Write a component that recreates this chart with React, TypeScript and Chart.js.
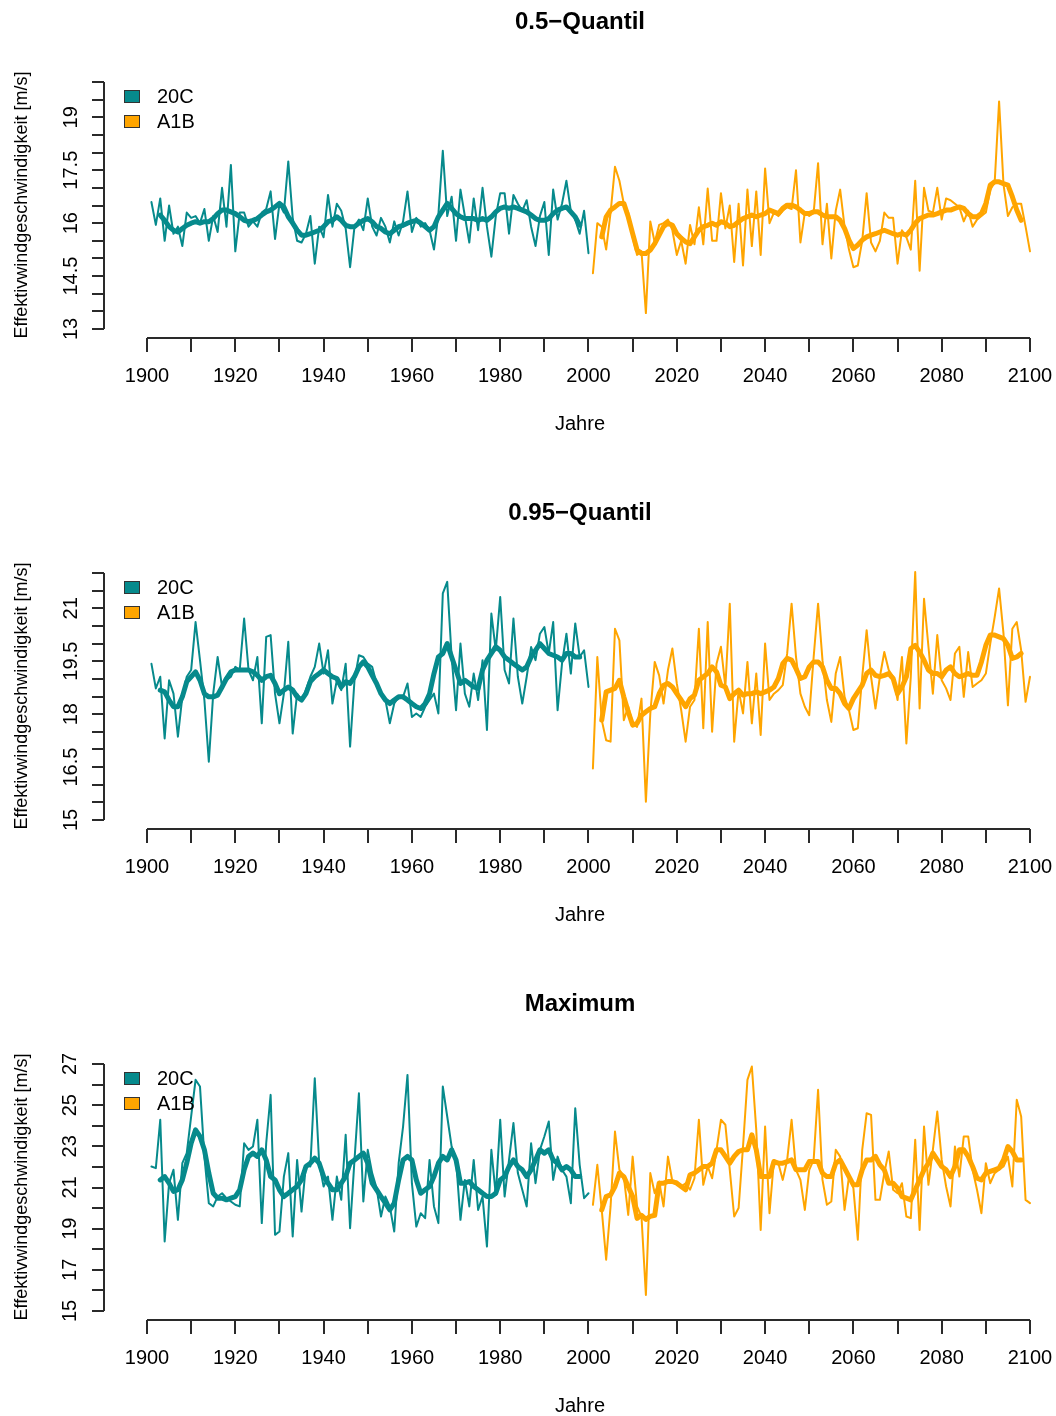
import React, { useEffect, useRef } from 'react';
import { Chart, registerables } from 'chart.js';

Chart.register(...registerables);

const TEAL = '#068a8c';
const ORANGE = '#FFA500';
const AXIS = '#2a2a2a';
const FONT = "'Liberation Sans', Arial, Helvetica, sans-serif";

const PANEL_H = 491;
const X_MIN = 1890.26;
const X_MAX = 2105.89;

const HIST_START = 1901;
const SCEN_START = 2001;
const HIST_SMOOTH_START = 1903;
const SCEN_SMOOTH_START = 2003;

const xTicks = [1900, 1910, 1920, 1930, 1940, 1950, 1960, 1970, 1980, 1990, 2000, 2010, 2020, 2030, 2040, 2050, 2060, 2070, 2080, 2090, 2100];
const xLabels = [1900, 1920, 1940, 1960, 1980, 2000, 2020, 2040, 2060, 2080, 2100];

const legendItems = [
  { label: '20C', color: TEAL },
  { label: 'A1B', color: ORANGE },
];

// ---------- 0.5-Quantil ----------
const q50Ticks = [13, 13.5, 14, 14.5, 15, 15.5, 16, 16.5, 17, 17.5, 18, 18.5, 19, 19.5, 20];
const q50Labels = [13, 14.5, 16, 17.5, 19];
const q50Hist = [
  16.6, 15.95, 16.7, 15.5, 16.5, 15.7, 15.9, 15.35, 16.3, 16.15,
  16.2, 16.0, 16.4, 15.5, 16.2, 15.75, 17.0, 15.9, 17.65, 15.2,
  16.3, 16.3, 15.9, 16.05, 15.9, 16.3, 16.4, 16.9, 15.55, 16.55,
  16.3, 17.75, 16.15, 15.5, 15.45, 15.7, 16.2, 14.85, 15.9, 15.6,
  16.8, 15.9, 16.55, 16.35, 15.85, 14.75, 15.9, 16.1, 15.8, 16.7,
  15.9, 15.65, 16.15, 15.9, 15.45, 16.05, 15.65, 16.05, 16.9, 15.75,
  16.15, 15.9, 16.0, 15.8, 15.25, 16.25, 18.05, 16.2, 16.75, 15.5,
  16.95, 16.2, 15.45, 16.7, 15.8, 17.0, 15.9, 15.05, 16.2, 16.85,
  16.85, 15.7, 16.8, 16.55, 16.35, 16.65, 15.9, 15.35, 16.2, 16.6,
  15.1, 16.95, 16.1, 16.55, 17.2, 16.35, 16.1, 15.7, 16.35, 15.15,
];
const q50Scen = [
  14.58, 16.0, 15.9, 15.25, 16.3, 17.6, 17.2, 16.55, 16.3, 15.6,
  15.1, 15.2, 13.45, 16.05, 15.45, 15.95, 16.0, 16.1, 15.8, 15.1,
  15.5, 14.85, 15.95, 15.4, 16.45, 15.4, 16.98, 15.5, 15.5, 16.85,
  15.85, 16.5, 14.9, 16.55, 14.8, 16.95, 15.35, 16.9, 15.1, 17.55,
  16.0, 16.3, 16.2, 16.35, 16.45, 16.4, 17.5, 15.45, 16.3, 16.2,
  16.3, 17.7, 15.4, 16.55, 15.0, 16.35, 16.95, 15.9, 15.25, 14.75,
  14.8, 15.5, 16.85, 15.45, 15.2, 15.5, 16.3, 16.15, 16.15, 14.85,
  15.8, 15.6, 15.25, 17.2, 14.65, 17.0, 16.35, 16.3, 17.0, 16.1,
  16.7, 16.65, 16.55, 16.45, 16.05, 16.35, 15.9, 16.1, 16.2, 16.3,
  16.95, 17.15, 19.45, 17.1, 16.2, 16.45, 16.55, 16.55, 15.9, 15.2,
];
const q50HistSmooth = [
  16.23, 16.08, 15.9, 15.8, 15.75, 15.85, 15.94, 16.0, 16.04, 16.0,
  16.04, 16.04, 16.13, 16.27, 16.37, 16.37, 16.32, 16.27, 16.18, 16.08,
  16.04, 16.08, 16.13, 16.23, 16.32, 16.37, 16.46, 16.56, 16.46, 16.18,
  16.0, 15.8, 15.66, 15.66, 15.7, 15.75, 15.8, 15.9, 16.04, 16.08,
  16.18, 16.08, 15.94, 15.9, 15.9, 16.0, 16.08, 16.13, 16.04, 15.9,
  15.85, 15.75, 15.7, 15.8, 15.9, 15.94, 16.0, 16.04, 16.08, 16.0,
  15.9, 15.8, 15.9, 16.18, 16.37, 16.56, 16.42, 16.27, 16.18, 16.13,
  16.13, 16.13, 16.08, 16.13, 16.08, 16.18, 16.32, 16.42, 16.46, 16.42,
  16.46, 16.42, 16.37, 16.32, 16.23, 16.13, 16.08, 16.08, 16.13, 16.27,
  16.37, 16.42, 16.46, 16.32, 16.18, 15.94,
];
const q50ScenSmooth = [
  15.61, 16.18, 16.37, 16.46, 16.56, 16.56, 16.18, 15.7, 15.24, 15.14,
  15.14, 15.24, 15.42, 15.66, 15.9, 16.0, 15.94, 15.7, 15.57, 15.47,
  15.42, 15.61, 15.8, 15.9, 15.94, 16.0, 15.94, 16.04, 16.0, 15.9,
  15.94, 16.04, 16.13, 16.18, 16.23, 16.18, 16.23, 16.27, 16.37, 16.32,
  16.27, 16.42, 16.51, 16.51, 16.46, 16.37, 16.27, 16.27, 16.32, 16.32,
  16.23, 16.18, 16.18, 16.18, 16.08, 15.85, 15.52, 15.28, 15.38, 15.52,
  15.61, 15.66, 15.7, 15.75, 15.8, 15.75, 15.7, 15.66, 15.7, 15.66,
  15.8, 16.0, 16.13, 16.18, 16.23, 16.23, 16.27, 16.32, 16.37, 16.37,
  16.42, 16.46, 16.42, 16.27, 16.18, 16.18, 16.27, 16.56, 17.08, 17.17,
  17.17, 17.12, 17.08, 16.75, 16.37, 16.08,
];

// ---------- 0.95-Quantil ----------
const q95Ticks = [15, 15.5, 16, 16.5, 17, 17.5, 18, 18.5, 19, 19.5, 20, 20.5, 21, 21.5, 22];
const q95Labels = [15, 16.5, 18, 19.5, 21];
const q95Hist = [
  19.43, 18.73, 19.06, 17.31, 18.96, 18.58, 17.36, 18.49, 19.06, 19.25,
  20.61, 19.53, 18.4, 16.65, 18.58, 19.62, 18.77, 18.96, 19.06, 19.34,
  19.25, 20.71, 19.25, 18.96, 19.62, 17.74, 20.19, 20.24, 18.58, 17.74,
  18.58, 20.05, 17.45, 18.58, 18.4, 18.68, 19.06, 19.34, 20.0, 19.15,
  19.81, 18.3, 18.96, 18.68, 19.43, 17.08, 18.96, 19.67, 19.62, 19.43,
  19.34, 18.87, 18.58, 18.4, 17.74, 18.3, 18.49, 18.49, 18.87, 17.92,
  18.02, 17.92, 18.21, 18.4, 18.58, 18.02, 21.42, 21.75, 19.62, 18.11,
  20.0, 18.58, 18.21, 19.15, 18.4, 19.53, 17.55, 20.85, 19.81, 21.32,
  19.25, 18.87, 20.71, 19.06, 18.3, 19.06, 19.9, 19.53, 20.28, 20.47,
  19.72, 20.61, 18.11, 19.43, 20.28, 19.15, 20.57, 19.62, 19.81, 18.77,
];
const q95Scen = [
  16.46, 19.62, 17.83, 17.26, 17.22, 20.42, 20.09, 17.83, 18.21, 17.74,
  17.64, 18.44, 15.52, 18.02, 19.48, 19.1, 18.3, 19.25, 19.86, 18.87,
  18.11, 17.22, 18.21, 18.4, 20.42, 17.6, 20.61, 17.5, 19.43, 19.91,
  18.77, 21.13, 17.22, 18.68, 18.02, 19.48, 17.74, 19.15, 17.41, 20.0,
  18.4, 18.58, 18.68, 18.82, 19.72, 21.13, 19.62, 18.58, 18.21, 17.97,
  19.62, 21.13, 19.53, 18.4, 17.78, 19.15, 19.62, 18.49, 18.11, 17.55,
  17.6, 19.06, 20.38, 19.06, 18.16, 19.06, 19.76, 19.25, 19.06, 18.4,
  19.62, 17.17, 19.06, 22.03, 18.16, 21.27, 19.91, 18.58, 20.24, 18.96,
  18.73, 18.4, 19.72, 19.91, 18.49, 19.76, 18.77, 18.87, 18.96, 19.15,
  20.0, 20.75, 21.56, 20.28, 18.25, 20.42, 20.61, 19.81, 18.35, 19.06,
];
const q95HistSmooth = [
  18.68, 18.63, 18.4, 18.21, 18.21, 18.49, 18.92, 19.06, 19.2, 18.96,
  18.58, 18.49, 18.49, 18.54, 18.77, 19.01, 19.2, 19.25, 19.25, 19.25,
  19.25, 19.2, 19.1, 18.96, 19.06, 19.1, 18.87, 18.58, 18.68, 18.77,
  18.68, 18.49, 18.4, 18.58, 18.92, 19.06, 19.15, 19.25, 19.15, 19.06,
  19.01, 18.77, 18.92, 18.87, 19.06, 19.34, 19.48, 19.34, 19.1, 18.87,
  18.58, 18.4, 18.3, 18.4, 18.49, 18.49, 18.4, 18.3, 18.21, 18.16,
  18.3, 18.58, 19.15, 19.62, 19.72, 20.0, 19.62, 19.25, 18.87, 18.96,
  18.87, 18.77, 18.73, 19.25, 19.53, 19.72, 19.91, 19.81, 19.62, 19.53,
  19.43, 19.34, 19.25, 19.34, 19.62, 19.81, 20.0, 19.86, 19.72, 19.67,
  19.62, 19.53, 19.72, 19.72, 19.62, 19.62,
];
const q95ScenSmooth = [
  17.83, 18.63, 18.68, 18.73, 18.96, 18.49, 18.07, 17.69, 17.74, 17.97,
  18.07, 18.16, 18.21, 18.58, 18.82, 18.87, 18.77, 18.58, 18.4, 18.21,
  18.44, 18.54, 18.96, 19.06, 19.15, 19.34, 19.2, 18.82, 18.77, 18.44,
  18.58, 18.68, 18.54, 18.58, 18.58, 18.63, 18.58, 18.63, 18.68, 18.77,
  19.01, 19.43, 19.58, 19.53, 19.29, 19.01, 19.06, 19.34, 19.48, 19.48,
  19.34, 18.96, 18.73, 18.73, 18.58, 18.3, 18.16, 18.44, 18.63, 18.82,
  19.15, 19.25, 19.1, 19.06, 19.1, 19.15, 19.01, 18.58, 18.77, 19.06,
  19.86, 19.95, 19.76, 19.53, 19.25, 19.15, 19.15, 19.06, 19.25, 19.34,
  19.15, 19.06, 19.1, 19.15, 19.1, 19.1, 19.48, 19.95, 20.24, 20.24,
  20.19, 20.14, 19.95, 19.58, 19.62, 19.72,
];

// ---------- Maximum ----------
const maxTicks = [15, 16, 17, 18, 19, 20, 21, 22, 23, 24, 25, 26, 27];
const maxLabels = [15, 17, 19, 21, 23, 25, 27];
const maxHist = [
  22.02, 21.94, 24.29, 18.38, 21.21, 21.86, 19.43, 22.18, 22.67, 24.45,
  26.23, 25.91, 22.5, 20.24, 20.08, 20.56, 20.72, 20.48, 20.32, 20.16,
  20.08, 23.15, 22.83, 22.99, 24.29, 19.27, 23.15, 25.5, 18.7, 18.86,
  21.53, 22.67, 18.62, 22.34, 19.83, 22.1, 22.02, 26.31, 22.18, 21.05,
  21.53, 19.43, 21.53, 20.4, 23.56, 19.02, 22.34, 25.58, 20.32, 22.83,
  21.7, 20.97, 19.59, 20.56, 20.08, 18.86, 22.18, 23.96, 26.47, 21.21,
  19.1, 19.75, 19.51, 22.34, 20.08, 19.27, 25.91, 24.45, 22.99, 22.34,
  19.43, 21.37, 20.08, 22.34, 19.91, 20.56, 18.13, 22.83, 20.64, 24.29,
  20.56, 22.34, 24.13, 21.7, 20.89, 20.08, 23.15, 21.21, 22.83, 23.48,
  24.21, 21.37, 22.5, 21.86, 21.53, 20.24, 24.85, 22.1, 20.48, 20.72,
];
const maxScen = [
  20.16, 22.1, 19.91, 17.49, 20.08, 23.72, 21.86, 21.53, 19.67, 22.5,
  20.08, 19.59, 15.78, 21.7, 20.72, 21.29, 20.08, 22.5, 21.29, 21.29,
  21.05, 21.21, 20.89, 21.45, 24.29, 21.13, 22.02, 21.45, 22.83, 24.29,
  24.05, 21.86, 19.59, 20.0, 22.99, 26.23, 26.88, 23.8, 18.94, 23.96,
  19.75, 22.34, 22.18, 21.37, 22.34, 24.29, 21.86, 21.37, 19.91, 21.86,
  22.34, 25.75, 21.37, 20.16, 20.32, 22.83, 22.5, 19.91, 21.53, 20.97,
  18.46, 22.83, 24.61, 24.53, 20.4, 20.4, 21.7, 22.75, 20.89, 20.72,
  21.21, 19.59, 19.51, 23.32, 18.94, 23.96, 21.13, 22.83, 24.69, 22.34,
  21.05, 20.08, 22.99, 21.53, 23.48, 23.48, 21.86, 20.89, 19.75, 22.18,
  21.21, 21.7, 21.86, 22.02, 22.5, 21.05, 25.26, 24.45, 20.4, 20.24,
];
const maxHistSmooth = [
  21.37, 21.53, 21.21, 20.81, 20.89, 21.37, 22.18, 23.15, 23.8, 23.48,
  22.83, 21.7, 20.72, 20.48, 20.48, 20.4, 20.48, 20.56, 20.89, 21.86,
  22.51, 22.67, 22.51, 22.83, 22.34, 21.53, 21.37, 20.89, 20.56, 20.72,
  20.89, 21.05, 21.37, 22.02, 22.18, 22.43, 22.18, 21.53, 21.21, 20.89,
  20.89, 21.21, 21.53, 22.18, 22.34, 22.51, 22.67, 22.18, 21.21, 20.89,
  20.56, 20.24, 19.91, 20.24, 21.37, 22.34, 22.51, 22.34, 21.37, 20.72,
  20.89, 21.05, 21.53, 22.18, 22.51, 22.34, 22.83, 22.34, 21.21, 21.21,
  21.29, 21.05, 20.89, 20.72, 20.56, 20.56, 20.72, 21.37, 21.53, 22.02,
  22.34, 22.02, 21.86, 21.53, 21.86, 22.34, 22.83, 22.67, 22.83, 22.34,
  22.18, 21.86, 22.02, 21.86, 21.53, 21.53,
];
const maxScenSmooth = [
  19.91, 20.56, 20.64, 21.05, 21.7, 21.53, 21.05, 20.56, 19.5, 19.65,
  19.45, 19.6, 19.65, 21.21, 21.21, 21.29, 21.29, 21.21, 21.05, 20.89,
  21.62, 21.7, 21.86, 22.02, 22.02, 22.18, 22.83, 22.83, 22.51, 22.18,
  22.51, 22.75, 22.83, 22.83, 23.56, 22.83, 21.53, 21.53, 21.53, 22.26,
  22.18, 22.18, 22.26, 22.34, 21.86, 21.86, 21.86, 22.26, 22.26, 22.26,
  21.7, 21.53, 21.53, 22.18, 22.34, 21.94, 21.53, 21.13, 21.13, 21.86,
  22.34, 22.34, 22.51, 22.1, 21.86, 21.21, 21.21, 20.97, 20.56, 20.48,
  20.4, 20.89, 21.37, 21.86, 22.18, 22.67, 22.34, 22.02, 21.86, 21.53,
  22.02, 22.83, 22.83, 22.51, 22.02, 21.45, 21.37, 21.7, 21.78, 21.86,
  21.94, 22.34, 22.99, 22.75, 22.34, 22.34,
];

type PanelProps = {
  top: number;
  title: string;
  yTicks: number[];
  yLabels: number[];
  hist: number[];
  scen: number[];
  histSmooth: number[];
  scenSmooth: number[];
};

const toPoints = (arr: number[], start: number) => arr.map((v, i) => ({ x: start + i, y: v }));

function Panel({ top, title, yTicks, yLabels, hist, scen, histSmooth, scenSmooth }: PanelProps) {
  const ref = useRef<HTMLCanvasElement | null>(null);

  useEffect(() => {
    if (!ref.current) return;
    // R-style plot region: tick range sits 9px above the bottom edge and 10px below the top edge
    const tickSpan = yTicks[yTicks.length - 1] - yTicks[0];
    const pxPerUnit = 247 / tickSpan;
    const yMin = yTicks[0] - 9 / pxPerUnit;
    const yMax = yTicks[yTicks.length - 1] + 10 / pxPerUnit;
    const widestLabel = Math.max(...yLabels.map((v) => String(v).length));
    const labelHalf = widestLabel >= 4 ? 19.5 : 11;

    const chart = new Chart(ref.current, {
      type: 'line',
      data: {
        datasets: [
          { data: toPoints(histSmooth, HIST_SMOOTH_START), borderColor: TEAL, borderWidth: 5, order: 0 },
          { data: toPoints(scenSmooth, SCEN_SMOOTH_START), borderColor: ORANGE, borderWidth: 5, order: 0 },
          { data: toPoints(hist, HIST_START), borderColor: TEAL, borderWidth: 2, order: 1 },
          { data: toPoints(scen, SCEN_START), borderColor: ORANGE, borderWidth: 2, order: 1 },
          {
            data: [{ x: xTicks[0], y: yMin }, { x: xTicks[xTicks.length - 1], y: yMin }],
            borderColor: AXIS, borderWidth: 2, clip: false, order: 2, borderCapStyle: 'butt',
          },
          {
            data: [{ x: X_MIN, y: yTicks[0] }, { x: X_MIN, y: yTicks[yTicks.length - 1] }],
            borderColor: AXIS, borderWidth: 2, clip: false, order: 2, borderCapStyle: 'butt',
          },
        ],
      } as any,
      options: {
        animation: false,
        responsive: false,
        events: [],
        elements: {
          point: { radius: 0 },
          line: { tension: 0, fill: false, borderJoinStyle: 'round', borderCapStyle: 'round' },
        },
        layout: { padding: 0 },
        plugins: {
          legend: { display: false },
          tooltip: { enabled: false },
          title: {
            display: true,
            text: title,
            fullSize: false,
            color: '#000',
            font: { family: FONT, size: 24, weight: 'bold' },
            padding: { top: 7.6, bottom: 35.6 },
          },
        },
        scales: {
          x: {
            type: 'linear',
            min: X_MIN,
            max: X_MAX,
            afterBuildTicks: (s: any) => { s.ticks = xTicks.map((v) => ({ value: v })); },
            afterFit: (s: any) => {
              s.height = PANEL_H - 338;
              s.paddingLeft = 0; s.paddingRight = 0; s.paddingTop = 0; s.paddingBottom = 0;
            },
            border: { display: false },
            grid: { drawOnChartArea: false, drawTicks: true, tickLength: 14, color: AXIS, lineWidth: 2 },
            ticks: {
              autoSkip: false, maxRotation: 0, minRotation: 0, padding: 12, color: '#000',
              font: { family: FONT, size: 20 },
              callback: (v: any) => (xLabels.includes(Number(v)) ? String(v) : ''),
            },
            title: {
              display: true, text: 'Jahre', color: '#000',
              font: { family: FONT, size: 20 }, padding: { top: 0, bottom: 55 },
            },
          },
          y: {
            type: 'linear',
            min: yMin,
            max: yMax,
            afterBuildTicks: (s: any) => { s.ticks = yTicks.map((v) => ({ value: v })); },
            afterFit: (s: any) => {
              s.width = 104;
              s.paddingLeft = 0; s.paddingRight = 0; s.paddingTop = 0; s.paddingBottom = 0;
            },
            border: { display: false },
            grid: { drawOnChartArea: false, drawTicks: true, tickLength: 12, color: AXIS, lineWidth: 2 },
            ticks: {
              autoSkip: false, minRotation: 90, maxRotation: 90, crossAlign: 'center',
              padding: 104 - 12 - 71 - labelHalf, color: '#000',
              font: { family: FONT, size: 20 },
              callback: (v: any) => (yLabels.includes(Number(v)) ? String(v) : ''),
            },
            title: {
              display: true, text: 'Effektivwindgeschwindigkeit [m/s]', color: '#000',
              font: { family: FONT, size: 18 }, padding: { top: 11, bottom: 0 },
            },
          },
        },
      } as any,
    });
    return () => chart.destroy();
  }, []);

  return (
    <div style={{ position: 'absolute', left: 0, top, width: 1056, height: PANEL_H }}>
      <canvas ref={ref} width={1056} height={PANEL_H} style={{ display: 'block', width: 1056, height: PANEL_H }} />
      {legendItems.map((item, i) => (
        <div key={item.label} style={{ position: 'absolute', left: 124, top: 90 + i * 25, height: 12 }}>
          <div
            style={{
              position: 'absolute', left: 0, top: 0, width: 14, height: 11,
              background: item.color, border: '1px solid #333',
            }}
          />
          <div
            style={{
              position: 'absolute', left: 33, top: -5, fontFamily: FONT, fontSize: 20,
              lineHeight: '22px', color: '#000', whiteSpace: 'nowrap',
            }}
          >
            {item.label}
          </div>
        </div>
      ))}
    </div>
  );
}

export default function App() {
  return (
    <div style={{ position: 'fixed', left: 0, top: 0, width: 1056, height: 1416, overflow: 'hidden', background: '#fff' }}>
      <Panel top={0} title={'0.5\u2212Quantil'} yTicks={q50Ticks} yLabels={q50Labels}
        hist={q50Hist} scen={q50Scen} histSmooth={q50HistSmooth} scenSmooth={q50ScenSmooth} />
      <Panel top={491} title={'0.95\u2212Quantil'} yTicks={q95Ticks} yLabels={q95Labels}
        hist={q95Hist} scen={q95Scen} histSmooth={q95HistSmooth} scenSmooth={q95ScenSmooth} />
      <Panel top={982} title={'Maximum'} yTicks={maxTicks} yLabels={maxLabels}
        hist={maxHist} scen={maxScen} histSmooth={maxHistSmooth} scenSmooth={maxScenSmooth} />
    </div>
  );
}
